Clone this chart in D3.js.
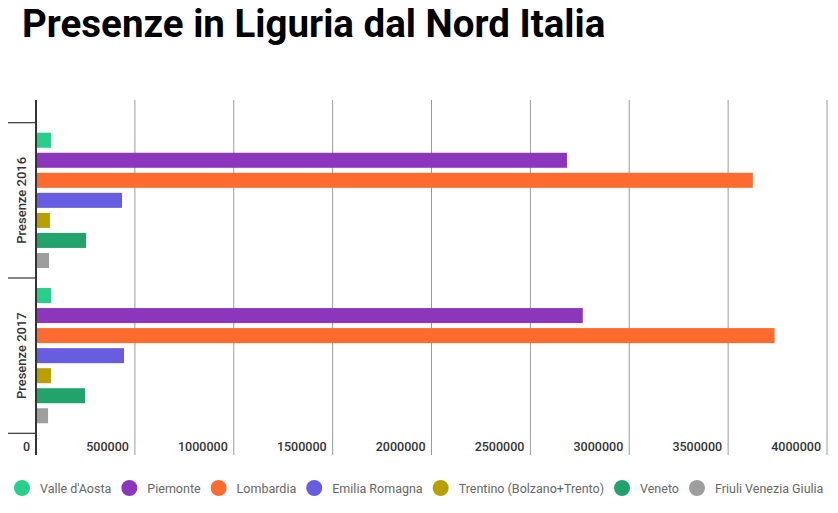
<!DOCTYPE html>
<html>
<head>
<meta charset="utf-8">
<script src="https://cdn.jsdelivr.net/npm/d3@7"></script>
<style>
  body { margin: 0; background: #fff; }
  svg { font-family: Roboto, "Noto Sans", sans-serif; }
</style>
</head>
<body>
<div id="chart_div"></div>
<script>
// data
const categories = ["Presenze 2016", "Presenze 2017"];
const regions = ["Valle d'Aosta", "Piemonte", "Lombardia", "Emilia Romagna",
  "Trentino (Bolzano+Trento)", "Veneto", "Friuli Venezia Giulia"];
const colors = ["#27d08a", "#8c36bd", "#fe6b2e", "#685de0", "#b8a000", "#22a36b", "#9e9e9e"];
const values2016 = [76000, 2685000, 3625000, 435000, 71000, 253000, 66000];
const values2017 = [76000, 2765000, 3735000, 445000, 76000, 248000, 61000];
const xTicks = [0, 500000, 1000000, 1500000, 2000000, 2500000, 3000000, 3500000, 4000000];

const seriesValues = [values2016, values2017];

// dimensions
const width = 838, height = 513;
const plot = { left: 36, right: 827, top: 100, bottom: 455 };

const svg = d3.select("#chart_div")
  .append("svg")
  .attr("width", width)
  .attr("height", height)
  .attr("viewBox", `0 0 ${width} ${height}`);

// title
svg.append("text")
  .attr("x", 22)
  .attr("y", 37)
  .style("font-size", "38.5px")
  .style("font-weight", "bold")
  .style("fill", "#000")
  .text("Presenze in Liguria dal Nord Italia");

// scales
const x = d3.scaleLinear()
  .domain([0, 4000000])
  .range([plot.left, plot.right]);

const yCat = d3.scaleBand()
  .domain(categories)
  .range([122.7, 433.3]);

const ySub = d3.scaleBand()
  .domain(regions)
  .range([0, yCat.bandwidth()])
  .paddingInner(0.25)
  .paddingOuter(0.5);

// vertical gridlines
svg.append("g")
  .selectAll("line")
  .data(xTicks.slice(1))
  .enter()
  .append("line")
  .attr("x1", d => x(d))
  .attr("x2", d => x(d))
  .attr("y1", plot.top)
  .attr("y2", plot.bottom)
  .attr("stroke", "#9a9a9a")
  .attr("stroke-width", 1);

// bars
categories.forEach((cat, ci) => {
  svg.append("g")
    .selectAll("rect")
    .data(regions)
    .enter()
    .append("rect")
    .attr("x", x(0))
    .attr("y", d => yCat(cat) + ySub(d))
    .attr("width", (d, i) => x(seriesValues[ci][i]) - x(0))
    .attr("height", ySub.bandwidth())
    .attr("fill", (d, i) => colors[i]);
});

// category tick lines
svg.append("g")
  .selectAll("line")
  .data([yCat.range()[0], yCat(categories[1]), yCat.range()[1]])
  .enter()
  .append("line")
  .attr("x1", 8)
  .attr("x2", plot.left)
  .attr("y1", d => d)
  .attr("y2", d => d)
  .attr("stroke", "#333")
  .attr("stroke-width", 1.2);

// baseline axis
svg.append("line")
  .attr("x1", x(0))
  .attr("x2", x(0))
  .attr("y1", plot.top)
  .attr("y2", plot.bottom)
  .attr("stroke", "#333")
  .attr("stroke-width", 2);

// category labels
svg.append("g")
  .selectAll("text")
  .data(categories)
  .enter()
  .append("text")
  .attr("transform", d => `translate(26, ${yCat(d) + yCat.bandwidth() / 2}) rotate(-90)`)
  .attr("text-anchor", "middle")
  .style("font-size", "13px")
  .style("font-weight", 500)
  .style("fill", "#333")
  .text(d => d);

// x tick labels
svg.append("g")
  .selectAll("text")
  .data(xTicks)
  .enter()
  .append("text")
  .attr("x", d => x(d) - 6)
  .attr("y", 450.5)
  .attr("text-anchor", "end")
  .style("font-size", "12.5px")
  .style("font-weight", 500)
  .style("fill", "#333")
  .text(d => d);

// legend
const legend = svg.append("g").attr("transform", "translate(0, 488)");
let lx = 14;
regions.forEach((name, i) => {
  legend.append("circle")
    .attr("cx", lx + 8)
    .attr("cy", 0)
    .attr("r", 8)
    .attr("fill", colors[i]);
  const t = legend.append("text")
    .attr("x", lx + 26)
    .attr("y", 4.5)
    .style("font-size", "12.5px")
    .style("fill", "#666")
    .text(name);
  lx += 26 + t.node().getComputedTextLength() + 10;
});
</script>
</body>
</html>
